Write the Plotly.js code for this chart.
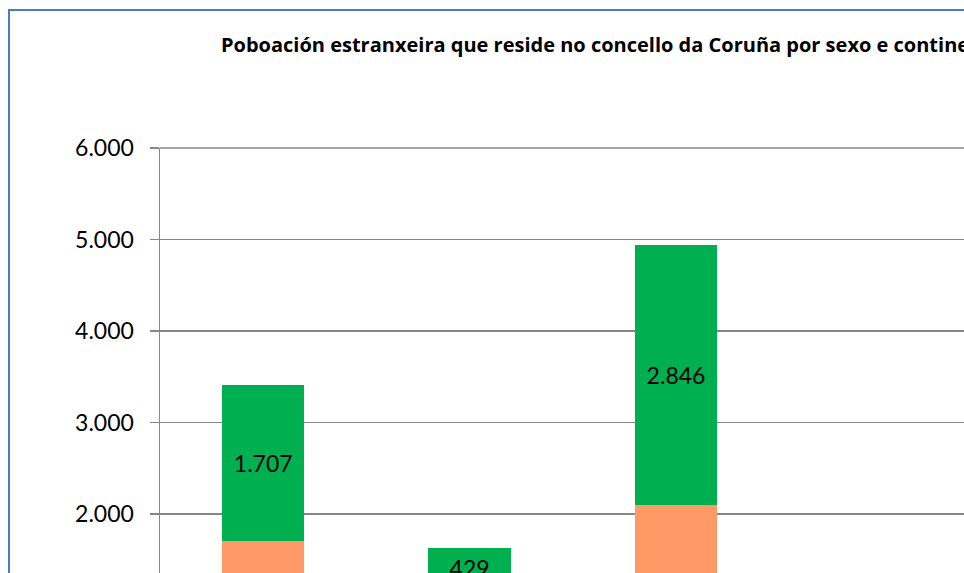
<!DOCTYPE html>
<html>
<head>
<meta charset="utf-8">
<script src="https://cdn.plot.ly/plotly-3.0.1.min.js"></script>
<style>
  html, body { margin: 0; padding: 0; overflow: hidden; background: #ffffff; width: 964px; height: 573px; }
  #chart { position: absolute; left: 0; top: 0; }
  #frame { position: absolute; left: 8px; top: 9px; width: 1300px; height: 900px;
           border: 2px solid #4A7EBB; box-sizing: border-box; pointer-events: none; }
</style>
</head>
<body>
<div id="chart"></div>
<div id="frame"></div>
<script>
// Data (Asia/Oceanía fall outside the visible crop and are estimates)
const categories = ["Europa", "África", "América", "Asia", "Oceanía"];
const homes     = [1700, 1199, 2094, 620, 12];
const mulleres  = [1707,  429, 2846, 540, 10];
const seriesNames = ["Homes", "Mulleres"];
const yTicks = [0, 1000, 2000, 3000, 4000, 5000, 6000];

const labelFont = { family: "Lato, 'Open Sans', sans-serif", size: 23, color: "#000000" };

const traces = [
  {
    type: "bar", name: seriesNames[0], x: categories, y: homes,
    marker: { color: "#FF9966" },
    text: homes, texttemplate: "%{y:,d}", textposition: "inside", insidetextanchor: "middle",
    textfont: labelFont, constraintext: "none", cliponaxis: false
  },
  {
    type: "bar", name: seriesNames[1], x: categories, y: mulleres,
    marker: { color: "#00B050" },
    text: mulleres, texttemplate: "%{y:,d}", textposition: "inside", insidetextanchor: "middle",
    textfont: labelFont, constraintext: "none", cliponaxis: false
  }
];

const W = 1252, H = 800;
const layout = {
  width: W, height: H,
  separators: ",.",
  barmode: "stack",
  bargap: 0.6,
  paper_bgcolor: "#ffffff",
  plot_bgcolor: "#ffffff",
  margin: { l: 160, r: 60, t: 148, b: 103, autoexpand: false },
  title: {
    text: "<b>Poboación estranxeira que reside no concello da Coruña por sexo e continente de nacionalidade</b>",
    font: { family: "'Open Sans', Lato, sans-serif", size: 20, color: "#000000" },
    xref: "container", yref: "container",
    x: 221 / W, xanchor: "left",
    y: 1 - 45 / H, yanchor: "middle"
  },
  xaxis: {
    showgrid: false, showline: true, linecolor: "#868686", linewidth: 1.5,
    ticks: "", tickfont: { family: "Lato, sans-serif", size: 20, color: "#000000" }
  },
  yaxis: {
    range: [0, 6000],
    tickvals: yTicks, tickformat: ",d",
    showgrid: true, gridcolor: "#868686", gridwidth: 1.5,
    showline: true, linecolor: "#868686", linewidth: 1.5,
    ticks: "outside", ticklen: 9, tickcolor: "#868686", tickwidth: 1.5,
    ticklabelstandoff: 11,
    zeroline: false,
    tickfont: { family: "Lato, 'Open Sans', sans-serif", size: 23, color: "#000000" }
  },
  shapes: [
    { type: "line", xref: "paper", yref: "paper", x0: 0, x1: 1, y0: 1, y1: 1,
      line: { color: "#868686", width: 1.5 }, layer: "below" }
  ],
  showlegend: true,
  legend: { orientation: "h", x: 0.5, xanchor: "center", y: -0.1, yanchor: "top",
            font: { family: "Lato, sans-serif", size: 18, color: "#000000" } }
};

Plotly.newPlot("chart", traces, layout, { displayModeBar: false, staticPlot: true });
</script>
</body>
</html>
